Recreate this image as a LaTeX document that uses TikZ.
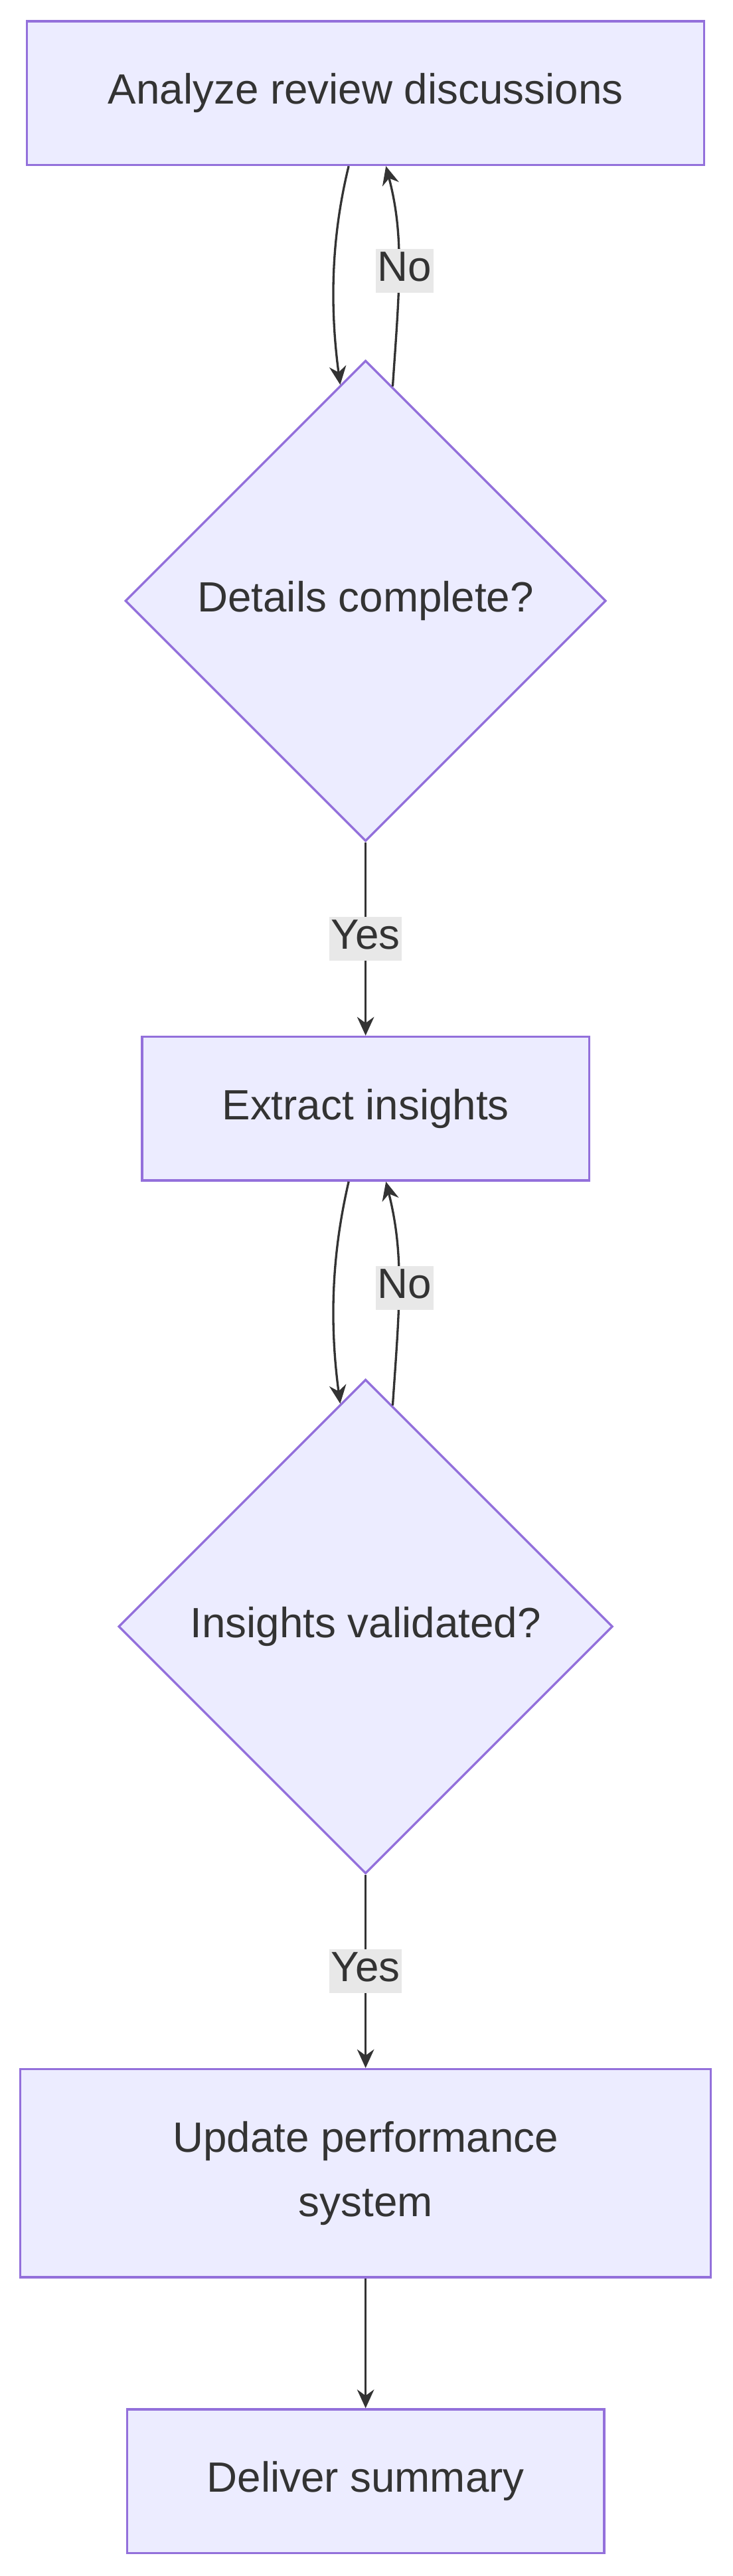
\documentclass[tikz,border=0pt]{standalone}
\usepackage{fontspec}
\setmainfont{Liberation Sans}
\usetikzlibrary{shapes.geometric,arrows.meta}
\definecolor{nfill}{HTML}{ECECFF}
\definecolor{nstroke}{HTML}{9370DB}
\definecolor{ink}{HTML}{333333}
\definecolor{lbl}{HTML}{E8E8E8}
\begin{document}
\begin{tikzpicture}[x=1pt,y=-1pt,
  every node/.style={font=\fontsize{25}{38}\selectfont,text=ink},
  box/.style={draw=nstroke,fill=nfill,line width=1.3pt,rectangle,inner sep=0pt,align=center},
  dia/.style={draw=nstroke,fill=nfill,line width=1.3pt,diamond,aspect=1,inner sep=0pt},
  edge/.style={draw=ink,line width=1.3pt,-{Stealth[length=11pt,width=10pt]}},
  lab/.style={fill=lbl,inner sep=1pt,text height=18pt,text depth=6pt}]
\useasboundingbox (0,0) rectangle (433,1522);
\node[box,minimum width=400,minimum height=85] (b1) at (216,55) {Analyze review discussions};
\node[dia,minimum width=284,minimum height=284] (d1) at (216,355) {Details complete?};
\node[box,minimum width=264,minimum height=85] (b2) at (216,655) {Extract insights};
\node[dia,minimum width=292,minimum height=292] (d2) at (216,961) {Insights validated?};
\node[box,minimum width=408,minimum height=123] (b3) at (216,1284) {Update performance\\system};
\node[box,minimum width=282,minimum height=85] (b4) at (216,1466) {Deliver summary};
% loop 1
\draw[edge] ([xshift=-10pt]b1.south) .. controls (197,135) and (194,175) .. ([xshift=-15pt,yshift=-15pt]d1.north);
\draw[edge] ([xshift=16pt,yshift=-16pt]d1.north) .. controls (236,170) and (239,140) .. ([xshift=12pt]b1.south);
\node[lab] (n1) at (239,160) {No};
\draw[edge] (d1.south) -- (b2.north) node[lab,pos=0.5] (y1) {Yes};
% loop 2
\draw[edge] ([xshift=-10pt]b2.south) .. controls (197,737) and (194,777) .. ([xshift=-15pt,yshift=-15pt]d2.north);
\draw[edge] ([xshift=16pt,yshift=-16pt]d2.north) .. controls (236,772) and (239,742) .. ([xshift=12pt]b2.south);
\node[lab] (n2) at (239,761) {No};
\draw[edge] (d2.south) -- (b3.north) node[lab,pos=0.5] (y2) {Yes};
\draw[edge] (b3.south) -- (b4.north);
\end{tikzpicture}
\end{document}
